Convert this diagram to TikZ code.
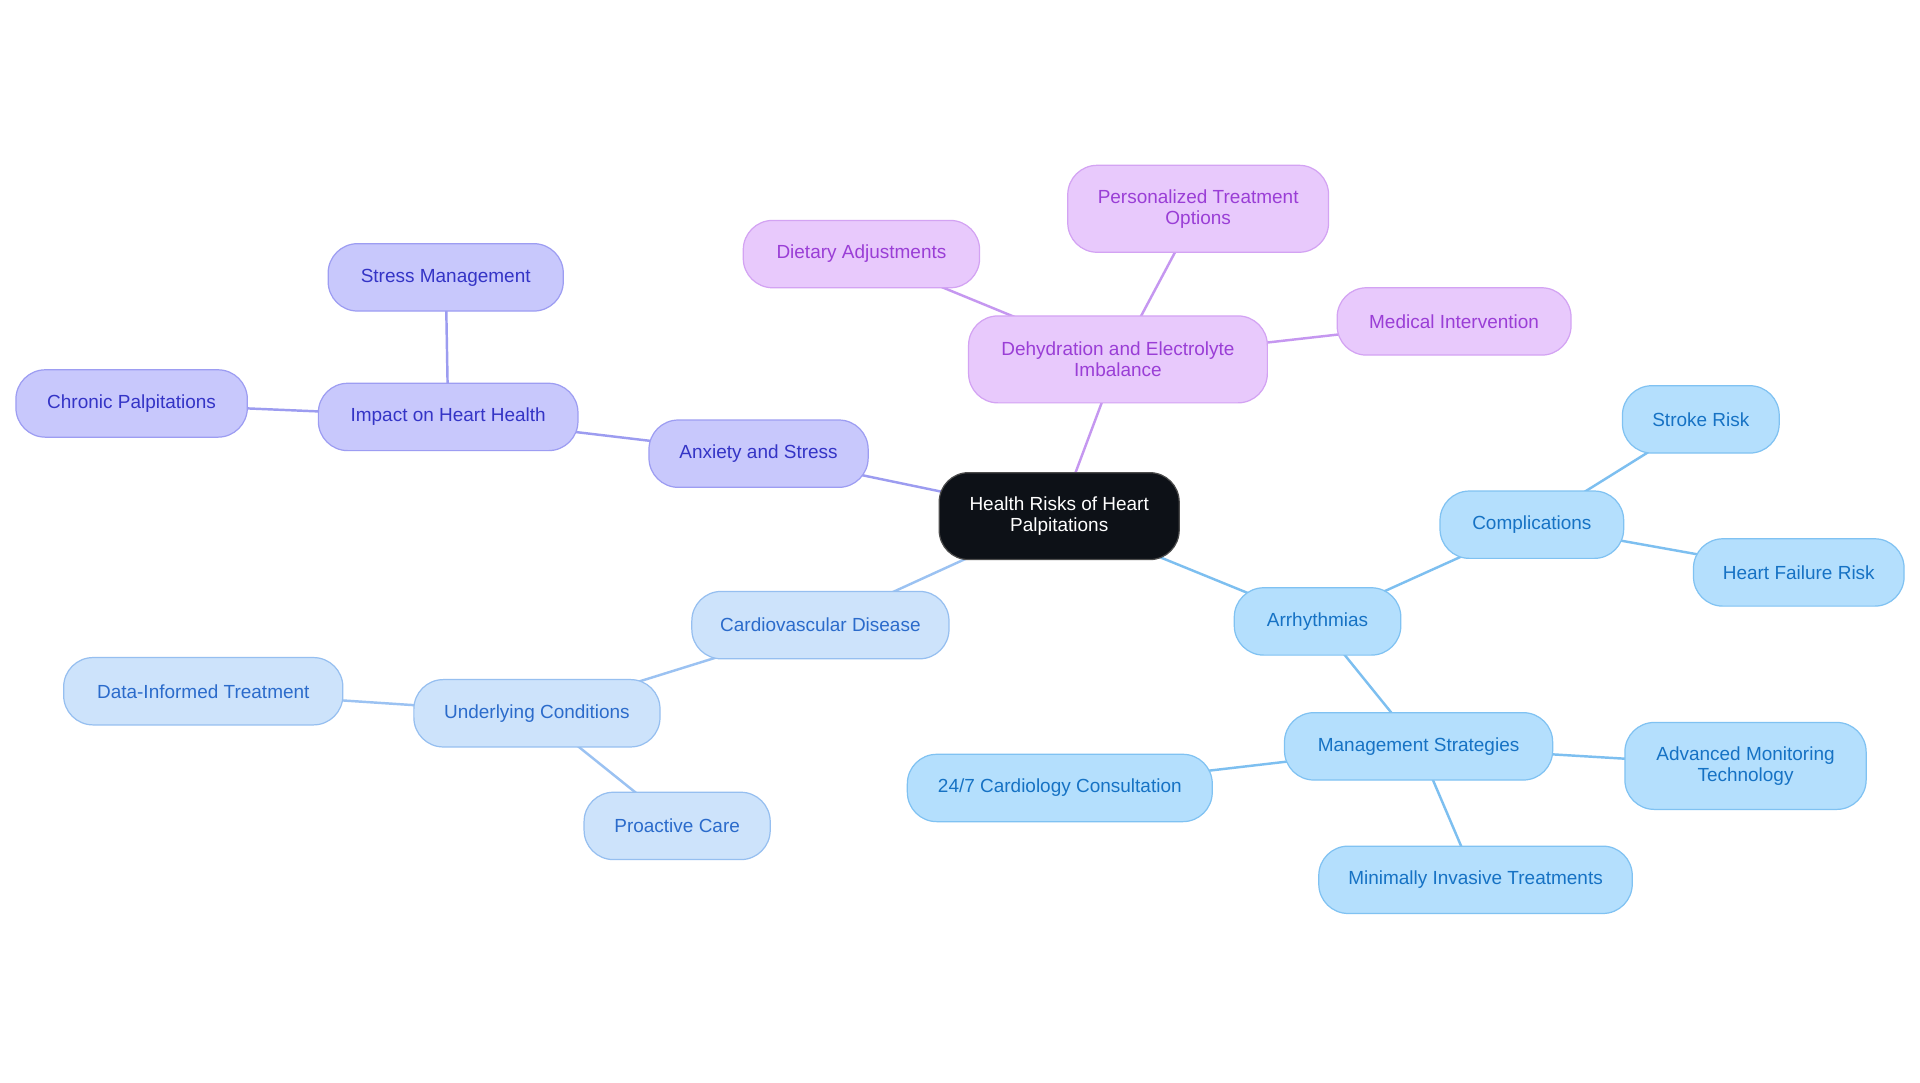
\documentclass[tikz,border=0pt]{standalone}
\usepackage{fontspec}
\setmainfont{Liberation Sans}
\usetikzlibrary{backgrounds}
\definecolor{pFill}{HTML}{E8C9FC}\definecolor{pDraw}{HTML}{D3A3F3}\definecolor{pText}{HTML}{9A3ED6}\definecolor{pEdge}{HTML}{C597F0}
\definecolor{vFill}{HTML}{C8C8FC}\definecolor{vDraw}{HTML}{9D9DF2}\definecolor{vText}{HTML}{3434C6}\definecolor{vEdge}{HTML}{9C9CF0}
\definecolor{lFill}{HTML}{CDE3FB}\definecolor{lDraw}{HTML}{96BFF0}\definecolor{lText}{HTML}{2B6BCB}\definecolor{lEdge}{HTML}{9BC2F2}
\definecolor{sFill}{HTML}{B4DFFD}\definecolor{sDraw}{HTML}{80C2F2}\definecolor{sText}{HTML}{1672C4}\definecolor{sEdge}{HTML}{7DBFF0}
\definecolor{cFill}{HTML}{0D1117}
\tikzset{
  box/.style={rounded corners=24pt, line width=1pt, align=center, inner sep=0pt,
    font=\fontsize{15.5}{17}\selectfont, minimum height=55pt},
  tall/.style={minimum height=71pt},
  pbox/.style={box, fill=pFill, draw=pDraw, text=pText},
  vbox/.style={box, fill=vFill, draw=vDraw, text=vText},
  lbox/.style={box, fill=lFill, draw=lDraw, text=lText},
  sbox/.style={box, fill=sFill, draw=sDraw, text=sText},
  cbox/.style={box, fill=cFill, draw=black!70, text=white, tall},
  pedge/.style={draw=pEdge, line width=2pt},
  vedge/.style={draw=vEdge, line width=2pt},
  ledge/.style={draw=lEdge, line width=2pt},
  sedge/.style={draw=sEdge, line width=2pt},
}
\begin{document}
\begin{tikzpicture}[x=1pt,y=-1pt]
\useasboundingbox (0,0) rectangle (1568,884);
\node[cbox, minimum width=196pt] (root) at (865,421.5) {Health Risks of Heart\\Palpitations};
% purple
\node[pbox, tall, minimum width=244pt] (dehy) at (913,293.5) {Dehydration and Electrolyte\\Imbalance};
\node[pbox, tall, minimum width=213pt] (pers) at (978.5,170.5) {Personalized Treatment\\Options};
\node[pbox, minimum width=193pt] (diet) at (703.5,207.5) {Dietary Adjustments};
\node[pbox, minimum width=191pt] (medi) at (1187.5,262.5) {Medical Intervention};
% violet
\node[vbox, minimum width=179pt] (anx) at (619.5,370.5) {Anxiety and Stress};
\node[vbox, minimum width=212pt] (impact) at (366,340.5) {Impact on Heart Health};
\node[vbox, minimum width=192pt] (stress) at (364,226.5) {Stress Management};
\node[vbox, minimum width=189pt] (chronic) at (107.5,329.5) {Chronic Palpitations};
% light blue
\node[lbox, minimum width=210pt] (cardio) at (670,510.5) {Cardiovascular Disease};
\node[lbox, minimum width=201pt] (under) at (438.5,582.5) {Underlying Conditions};
\node[lbox, minimum width=228pt] (data) at (166,564.5) {Data-Informed Treatment};
\node[lbox, minimum width=152pt] (proa) at (553,674.5) {Proactive Care};
% sky blue
\node[sbox, minimum width=136pt] (arr) at (1076,507.5) {Arrhythmias};
\node[sbox, minimum width=150pt] (comp) at (1251,428.5) {Complications};
\node[sbox, minimum width=128pt] (stroke) at (1389,342.5) {Stroke Risk};
\node[sbox, minimum width=172pt] (hf) at (1469,467.5) {Heart Failure Risk};
\node[sbox, minimum width=219pt] (mgmt) at (1158.5,609.5) {Management Strategies};
\node[sbox, minimum width=249pt] (cons) at (865.5,643.5) {24/7 Cardiology Consultation};
\node[sbox, tall, minimum width=197pt] (adv) at (1425.5,625.5) {Advanced Monitoring\\Technology};
\node[sbox, minimum width=256pt] (mini) at (1205,718.5) {Minimally Invasive Treatments};
\begin{scope}[on background layer]
\fill[white] (0,0) rectangle (1568,884);
\path[pedge] (root.center) -- (dehy.center);
\path[pedge] (dehy.center) -- (pers.center);
\path[pedge] (dehy.center) -- (diet.center);
\path[pedge] (dehy.center) -- (medi.center);
\path[vedge] (root.center) -- (anx.center);
\path[vedge] (anx.center) -- (impact.center);
\path[vedge] (impact.center) -- (stress.center);
\path[vedge] (impact.center) -- (chronic.center);
\path[ledge] (root.center) -- (cardio.center);
\path[ledge] (cardio.center) -- (under.center);
\path[ledge] (under.center) -- (data.center);
\path[ledge] (under.center) -- (proa.center);
\path[sedge] (root.center) -- (arr.center);
\path[sedge] (arr.center) -- (comp.center);
\path[sedge] (comp.center) -- (stroke.center);
\path[sedge] (comp.center) -- (hf.center);
\path[sedge] (arr.center) -- (mgmt.center);
\path[sedge] (mgmt.center) -- (cons.center);
\path[sedge] (mgmt.center) -- (adv.center);
\path[sedge] (mgmt.center) -- (mini.center);
\end{scope}
\end{tikzpicture}
\end{document}
